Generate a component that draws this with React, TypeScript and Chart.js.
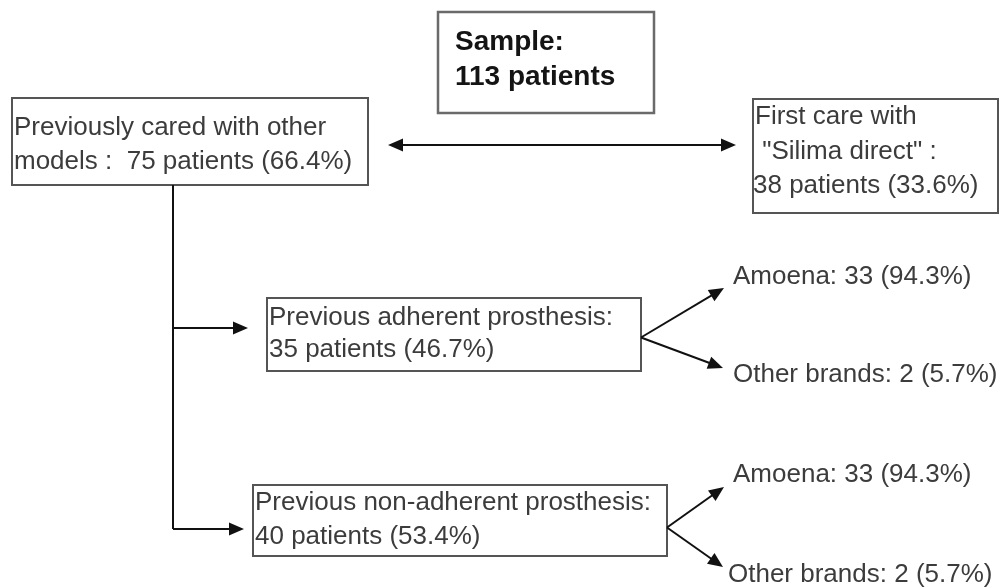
import React, { useEffect, useRef } from "react";
import { Chart, registerables } from "chart.js";

Chart.register(...registerables);

// ---------- data ----------
const sampleLabel = "Sample:";
const sampleTotal = 113;
const groupNames = ["Previously cared with other", "First care with"];
const groupCounts = [75, 38];
const groupPercents = ["66.4", "33.6"];
const prosthesisNames = ["Previous adherent prosthesis:", "Previous non-adherent prosthesis:"];
const prosthesisCounts = [35, 40];
const prosthesisPercents = ["46.7", "53.4"];
const brandNames = ["Amoena", "Other brands"];
const brandCountsAdherent = [33, 2];
const brandPercentsAdherent = ["94.3", "5.7"];
const brandCountsNonAdherent = [33, 2];
const brandPercentsNonAdherent = ["94.3", "5.7"];

// ---------- layout (diagram coordinates on a 1002 x 588 grid) ----------
type Box = { x0: number; y0: number; x1: number; y1: number; tx: number[]; ty: number[]; bold?: boolean };
const boxSample: Box = { x0: 438, y0: 12, x1: 654, y1: 113, tx: [455, 455], ty: [42, 77], bold: true };
const boxGroup0: Box = { x0: 12, y0: 98, x1: 368, y1: 185, tx: [14, 14], ty: [128, 162] };
const boxGroup1: Box = { x0: 753, y0: 99, x1: 998, y1: 213, tx: [755, 755, 753], ty: [117, 152, 186] };
const boxPros0: Box = { x0: 267, y0: 298, x1: 641, y1: 371, tx: [269, 269], ty: [318, 350] };
const boxPros1: Box = { x0: 253, y0: 485, x1: 667, y1: 556, tx: [255, 255], ty: [503, 537] };
const brandLabelPos0 = [[733, 277], [733, 375]];
const brandLabelPos1 = [[733, 475], [728, 575]];

function App() {
  const ref = useRef<HTMLCanvasElement | null>(null);
  useEffect(() => {
    document.body.style.margin = "0";
    const canvas = ref.current;
    if (!canvas) return;

    const boxTexts: [Box, string[]][] = [
      [boxSample, [sampleLabel, `${sampleTotal} patients`]],
      [boxGroup0, [groupNames[0], `models :  ${groupCounts[0]} patients (${groupPercents[0]}%)`]],
      [boxGroup1, [groupNames[1], ` "Silima direct" :`, `${groupCounts[1]} patients (${groupPercents[1]}%)`]],
      [boxPros0, [prosthesisNames[0], `${prosthesisCounts[0]} patients (${prosthesisPercents[0]}%)`]],
      [boxPros1, [prosthesisNames[1], `${prosthesisCounts[1]} patients (${prosthesisPercents[1]}%)`]],
    ];
    const brandTexts: [number[], string][] = [
      [brandLabelPos0[0], `${brandNames[0]}: ${brandCountsAdherent[0]} (${brandPercentsAdherent[0]}%)`],
      [brandLabelPos0[1], `${brandNames[1]}: ${brandCountsAdherent[1]} (${brandPercentsAdherent[1]}%)`],
      [brandLabelPos1[0], `${brandNames[0]}: ${brandCountsNonAdherent[0]} (${brandPercentsNonAdherent[0]}%)`],
      [brandLabelPos1[1], `${brandNames[1]}: ${brandCountsNonAdherent[1]} (${brandPercentsNonAdherent[1]}%)`],
    ];
    const pros0Mid = (boxPros0.y0 + boxPros0.y1) / 2 + 3;
    const pros1Mid = (boxPros1.y0 + boxPros1.y1) / 2 + 7;
    const stemX = 173;
    // connectors: [from, to, arrowAtStart, arrowAtEnd]
    const connectors: [number[], number[], boolean, boolean][] = [
      [[388, 145], [736, 145], true, true],
      [[stemX, boxGroup0.y1], [stemX, 529], false, false],
      [[stemX, 328], [248, 328], false, true],
      [[stemX, 529], [244, 529], false, true],
      [[boxPros0.x1, pros0Mid], [724, 288], false, true],
      [[boxPros0.x1, pros0Mid], [723, 368], false, true],
      [[boxPros1.x1, pros1Mid], [724, 487], false, true],
      [[boxPros1.x1, pros1Mid], [723, 567], false, true],
    ];

    const flowPlugin = {
      id: "flow",
      afterDraw(chart: any) {
        const ctx = chart.ctx as CanvasRenderingContext2D;
        const sx = chart.scales.x;
        const sy = chart.scales.y;
        const X = (v: number) => sx.getPixelForValue(v);
        const Y = (v: number) => sy.getPixelForValue(v);
        ctx.save();
        boxTexts.forEach(([b, lines]) => {
          ctx.strokeStyle = b.bold ? "#6a6a6a" : "#555";
          ctx.lineWidth = b.bold ? 2.5 : 2;
          ctx.strokeRect(X(b.x0), Y(b.y0), X(b.x1) - X(b.x0), Y(b.y1) - Y(b.y0));
          ctx.fillStyle = b.bold ? "#141414" : "#3c3c3c";
          ctx.font = b.bold ? "bold 28px 'Liberation Sans', Arial, sans-serif" : "26px 'Liberation Sans', Arial, sans-serif";
          ctx.textBaseline = "middle";
          ctx.textAlign = "left";
          lines.forEach((t, i) => ctx.fillText(t, X(b.tx[i]), Y(b.ty[i])));
        });
        ctx.fillStyle = "#3c3c3c";
        ctx.font = "26px 'Liberation Sans', Arial, sans-serif";
        brandTexts.forEach(([p, t]) => ctx.fillText(t, X(p[0]), Y(p[1])));
        const head = (fx: number, fy: number, tx: number, ty: number) => {
          const a = Math.atan2(ty - fy, tx - fx);
          const L = 15, W = 6.5;
          ctx.beginPath();
          ctx.moveTo(tx, ty);
          ctx.lineTo(tx - L * Math.cos(a) + W * Math.sin(a), ty - L * Math.sin(a) - W * Math.cos(a));
          ctx.lineTo(tx - L * Math.cos(a) - W * Math.sin(a), ty - L * Math.sin(a) + W * Math.cos(a));
          ctx.closePath();
          ctx.fill();
        };
        ctx.strokeStyle = "#111";
        ctx.fillStyle = "#111";
        ctx.lineWidth = 2;
        connectors.forEach(([f, t, s, e]) => {
          const fx = X(f[0]), fy = Y(f[1]), tx = X(t[0]), ty = Y(t[1]);
          const a = Math.atan2(ty - fy, tx - fx);
          const sxp = s ? fx + 10 * Math.cos(a) : fx;
          const syp = s ? fy + 10 * Math.sin(a) : fy;
          const exp = e ? tx - 10 * Math.cos(a) : tx;
          const eyp = e ? ty - 10 * Math.sin(a) : ty;
          ctx.beginPath();
          ctx.moveTo(sxp, syp);
          ctx.lineTo(exp, eyp);
          ctx.stroke();
          if (e) head(fx, fy, tx, ty);
          if (s) head(tx, ty, fx, fy);
        });
        ctx.restore();
      },
    };

    const chart = new Chart(canvas, {
      type: "scatter",
      data: { datasets: [{ data: [], pointRadius: 0 }] },
      options: {
        animation: false,
        responsive: false,
        maintainAspectRatio: false,
        devicePixelRatio: 1,
        layout: { padding: 0 },
        events: [],
        scales: {
          x: { type: "linear", min: 0, max: 1002, display: false },
          y: { type: "linear", min: 0, max: 588, reverse: true, display: false },
        },
        plugins: { legend: { display: false }, tooltip: { enabled: false } },
      },
      plugins: [flowPlugin],
    });
    return () => chart.destroy();
  }, []);

  return (
    <div style={{ width: 1002, height: 588, background: "#fff" }}>
      <canvas ref={ref} width={1002} height={588} style={{ display: "block" }} />
    </div>
  );
}

export default App;
